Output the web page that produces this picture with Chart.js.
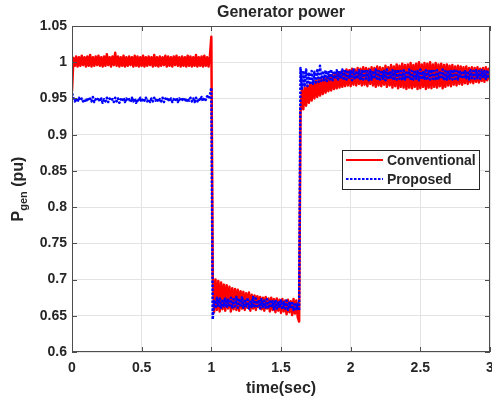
<!DOCTYPE html>
<html>
<head>
<meta charset="utf-8">
<script src="https://cdn.jsdelivr.net/npm/chart.js@4/dist/chart.umd.min.js"></script>
<style>
  html, body { margin: 0; padding: 0; background: #fff; }
</style>
</head>
<body>
<canvas id="power" width="492" height="403"></canvas>
<script>
// sampling step of the traces (sec)
const dt = 0.01;

const xTicks = [0, 0.5, 1, 1.5, 2, 2.5, 3];
const yTicks = [0.6, 0.65, 0.7, 0.75, 0.8, 0.85, 0.9, 0.95, 1, 1.05];

const seriesNames = ["Conventional", "Proposed"];

// generator power, conventional controller (pu), one value per dt
const conventional = [
    0.960, 1.006, 0.995, 1.008, 0.994, 1.007, 0.995, 1.009, 0.996, 1.007,
    0.994, 1.008, 0.995, 1.010, 0.994, 1.007, 0.995, 1.008, 0.996, 1.009,
    0.995, 1.007, 0.994, 1.008, 0.995, 1.011, 0.996, 1.007, 0.994, 1.008,
    0.996, 1.013, 0.995, 1.008, 0.994, 1.007, 0.995, 1.009, 0.994, 1.007,
    0.995, 1.008, 0.996, 1.007, 0.994, 1.009, 0.995, 1.008, 0.994, 1.007,
    0.995, 1.009, 0.994, 1.007, 0.995, 1.008, 0.996, 1.007, 0.994, 1.010,
    0.995, 1.007, 0.994, 1.008, 0.995, 1.007, 0.996, 1.009, 0.994, 1.008,
    0.995, 1.007, 0.994, 1.008, 0.996, 1.009, 0.995, 1.007, 0.994, 1.008,
    0.995, 1.007, 0.994, 1.009, 0.995, 1.008, 0.994, 1.007, 0.995, 1.010,
    0.994, 1.007, 0.995, 1.008, 0.994, 1.009, 0.995, 1.007, 0.994, 1.008,
    1.035,
    0.705, 0.655, 0.700, 0.658, 0.698, 0.656, 0.696, 0.659, 0.693,
    0.657, 0.692, 0.660, 0.690, 0.656, 0.688, 0.659, 0.687, 0.658, 0.686,
    0.657, 0.684, 0.660, 0.683, 0.658, 0.681, 0.661, 0.682, 0.657, 0.679,
    0.660, 0.678, 0.658, 0.677, 0.662, 0.676, 0.659, 0.675, 0.657, 0.676,
    0.660, 0.674, 0.656, 0.675, 0.658, 0.673, 0.655, 0.674, 0.657, 0.672,
    0.654, 0.673, 0.656, 0.671, 0.652, 0.672, 0.655, 0.670, 0.651, 0.673,
    0.653, 0.671, 0.648, 0.642,
    0.930, 0.962, 0.935, 0.965, 0.940, 0.968,
    0.944, 0.970, 0.947, 0.972, 0.950, 0.974, 0.952, 0.976, 0.954, 0.977,
    0.956, 0.979, 0.958, 0.980, 0.960, 0.982, 0.961, 0.983, 0.963, 0.984,
    0.964, 0.986, 0.965, 0.987, 0.966, 0.988, 0.967, 0.990, 0.968, 0.989,
    0.967, 0.991, 0.969, 0.990, 0.968, 0.992, 0.970, 0.991, 0.968, 0.993,
    0.969, 0.992, 0.967, 0.991, 0.970, 0.993, 0.968, 0.992, 0.966, 0.994,
    0.968, 0.993, 0.967, 0.992, 0.969, 0.995, 0.966, 0.993, 0.968, 0.996,
    0.965, 0.994, 0.967, 0.997, 0.964, 0.995, 0.966, 0.998, 0.965, 0.996,
    0.963, 0.997, 0.965, 0.999, 0.964, 0.996, 0.966, 0.998, 0.963, 1.000,
    0.964, 0.997, 0.966, 0.999, 0.963, 0.998, 0.965, 1.000, 0.964, 0.997,
    0.966, 0.999, 0.965, 0.997, 0.967, 0.998, 0.964, 0.996, 0.966, 0.997,
    0.968, 0.995, 0.967, 0.996, 0.969, 0.994, 0.968, 0.995, 0.970, 0.994,
    0.969, 0.993, 0.971, 0.994, 0.970, 0.992, 0.972, 0.993, 0.971, 0.992,
    0.973, 0.993, 0.972, 0.991, 0.974, 0.992, 0.973, 0.993, 0.975, 0.991, 0.976
];

// generator power, proposed controller (pu)
const proposed = [
    0.957, 0.951, 0.946, 0.950, 0.945, 0.951, 0.947, 0.950, 0.946, 0.949,
    0.945, 0.951, 0.947, 0.950, 0.946, 0.952, 0.945, 0.949, 0.947, 0.951,
    0.946, 0.950, 0.944, 0.949, 0.946, 0.951, 0.945, 0.950, 0.947, 0.949,
    0.945, 0.951, 0.946, 0.950, 0.944, 0.949, 0.946, 0.951, 0.945, 0.950,
    0.947, 0.949, 0.945, 0.951, 0.946, 0.950, 0.944, 0.949, 0.946, 0.951,
    0.945, 0.950, 0.947, 0.951, 0.946, 0.949, 0.945, 0.950, 0.946, 0.951,
    0.947, 0.950, 0.945, 0.949, 0.946, 0.951, 0.945, 0.950, 0.947, 0.951,
    0.946, 0.950, 0.945, 0.949, 0.946, 0.951, 0.945, 0.950, 0.947, 0.949,
    0.946, 0.951, 0.945, 0.950, 0.947, 0.951, 0.946, 0.950, 0.945, 0.951,
    0.946, 0.950, 0.947, 0.952, 0.946, 0.951, 0.948, 0.953, 0.950, 0.955,
    0.965,
    0.645, 0.672, 0.660, 0.675, 0.662, 0.674, 0.661, 0.673, 0.663,
    0.674, 0.661, 0.672, 0.662, 0.675, 0.660, 0.673, 0.663, 0.676, 0.661,
    0.674, 0.662, 0.677, 0.661, 0.673, 0.663, 0.675, 0.660, 0.672, 0.662,
    0.676, 0.661, 0.674, 0.663, 0.672, 0.660, 0.673, 0.662, 0.671, 0.661,
    0.673, 0.660, 0.672, 0.661, 0.670, 0.659, 0.672, 0.660, 0.670, 0.661,
    0.671, 0.659, 0.669, 0.660, 0.671, 0.658, 0.668, 0.660, 0.670, 0.658,
    0.668, 0.659, 0.667, 0.657,
    0.992, 0.962, 0.988, 0.966, 0.990, 0.967,
    0.986, 0.969, 0.988, 0.970, 0.987, 0.972, 0.989, 0.973, 0.995, 0.974,
    0.988, 0.975, 0.989, 0.974, 0.988, 0.976, 0.990, 0.975, 0.988, 0.977,
    0.989, 0.976, 0.988, 0.977, 0.990, 0.975, 0.988, 0.976, 0.989, 0.977,
    0.988, 0.975, 0.990, 0.976, 0.988, 0.977, 0.989, 0.975, 0.988, 0.976,
    0.990, 0.977, 0.988, 0.975, 0.989, 0.976, 0.988, 0.977, 0.990, 0.975,
    0.988, 0.976, 0.989, 0.977, 0.988, 0.975, 0.990, 0.976, 0.988, 0.977,
    0.989, 0.975, 0.988, 0.976, 0.990, 0.977, 0.988, 0.975, 0.989, 0.976,
    0.988, 0.977, 0.990, 0.975, 0.988, 0.976, 0.989, 0.977, 0.988, 0.975,
    0.990, 0.976, 0.988, 0.977, 0.989, 0.975, 0.988, 0.976, 0.990, 0.977,
    0.988, 0.975, 0.989, 0.976, 0.988, 0.977, 0.990, 0.975, 0.988, 0.976,
    0.989, 0.977, 0.988, 0.976, 0.990, 0.977, 0.988, 0.976, 0.989, 0.978,
    0.988, 0.977, 0.989, 0.978, 0.988, 0.976, 0.989, 0.978, 0.988, 0.977,
    0.989, 0.978, 0.988, 0.977, 0.989, 0.978, 0.988, 0.977, 0.989, 0.978, 0.987
];

const textColor = '#262626';
const fontFamily = '"Liberation Sans", Arial, Helvetica, sans-serif';

function toPoints(values) {
    return values.map((v, i) => ({ x: +(i * dt).toFixed(2), y: v }));
}

// matlab-like decorations: box, inward ticks, titles, legend
const decorations = {
    id: 'decorations',
    afterDatasetsDraw(chart) {
        const ctx = chart.ctx;
        const a = chart.chartArea;
        const xs = chart.scales.x, ys = chart.scales.y;
        ctx.save();
        ctx.strokeStyle = '#4d4d4d';
        ctx.lineWidth = 1;
        ctx.strokeRect(a.left + 0.5, a.top + 0.5, a.right - a.left - 1, a.bottom - a.top - 1);
        ctx.beginPath();
        xTicks.forEach(v => {
            const px = Math.round(xs.getPixelForValue(v)) + 0.5;
            ctx.moveTo(px, a.bottom); ctx.lineTo(px, a.bottom - 5);
            ctx.moveTo(px, a.top); ctx.lineTo(px, a.top + 5);
        });
        yTicks.forEach(v => {
            const py = Math.round(ys.getPixelForValue(v)) + 0.5;
            ctx.moveTo(a.left, py); ctx.lineTo(a.left + 5, py);
            ctx.moveTo(a.right, py); ctx.lineTo(a.right - 5, py);
        });
        ctx.stroke();
        ctx.restore();
    },
    afterDraw(chart) {
        const ctx = chart.ctx;
        const a = chart.chartArea;
        const cx = (a.left + a.right) / 2;
        ctx.save();
        ctx.fillStyle = textColor;
        ctx.textAlign = 'center';
        ctx.textBaseline = 'middle';

        ctx.font = 'bold 16px ' + fontFamily;
        ctx.fillText('Generator power', cx, 13);
        ctx.fillText('time(sec)', cx, 389);

        // y label with subscript
        ctx.translate(18, (a.top + a.bottom) / 2);
        ctx.rotate(-Math.PI / 2);
        ctx.textAlign = 'left';
        ctx.textBaseline = 'alphabetic';
        const big = 'bold 16px ' + fontFamily, small = 'bold 11px ' + fontFamily;
        ctx.font = big; const wP = ctx.measureText('P').width;
        ctx.font = small; const wSub = ctx.measureText('gen').width;
        ctx.font = big; const wRest = ctx.measureText(' (pu)').width;
        let x0 = -(wP + wSub + wRest) / 2;
        ctx.fillText('P', x0, 5);
        ctx.font = small; ctx.fillText('gen', x0 + wP, 9);
        ctx.font = big; ctx.fillText(' (pu)', x0 + wP + wSub, 5);
        ctx.restore();

        // legend
        ctx.save();
        const lx = 342, ly = 150, lw = 137, lh = 39;
        ctx.fillStyle = '#fff';
        ctx.fillRect(lx, ly, lw, lh);
        ctx.strokeStyle = '#262626';
        ctx.lineWidth = 1;
        ctx.strokeRect(lx + 0.5, ly + 0.5, lw, lh);
        chart.data.datasets.forEach((ds, i) => {
            const y = ly + 10 + i * 19;
            ctx.strokeStyle = ds.borderColor;
            ctx.lineWidth = 2;
            ctx.setLineDash(ds.borderDash || []);
            ctx.beginPath();
            ctx.moveTo(lx + 4, y); ctx.lineTo(lx + 41, y);
            ctx.stroke();
            ctx.setLineDash([]);
            ctx.fillStyle = textColor;
            ctx.font = 'bold 14px ' + fontFamily;
            ctx.textBaseline = 'middle';
            ctx.fillText(ds.label, lx + 45, y + 1);
        });
        ctx.restore();
    }
};

const tickFont = { family: fontFamily, size: 14, weight: 'bold' };

new Chart(document.getElementById('power'), {
    type: 'line',
    data: {
        datasets: [
            {
                label: seriesNames[0],
                data: toPoints(conventional),
                borderColor: '#ff0000',
                borderWidth: 2.5,
                borderJoinStyle: 'round',
                pointRadius: 0,
                tension: 0,
                order: 2,
            },
            {
                label: seriesNames[1],
                data: toPoints(proposed),
                borderColor: '#0000ff',
                borderWidth: 2.5,
                borderDash: [2.5, 1.5],
                borderJoinStyle: 'round',
                pointRadius: 0,
                tension: 0,
                order: 1,
            },
        ],
    },
    options: {
        responsive: false,
        animation: false,
        layout: { padding: { top: 26, right: 2, left: 0, bottom: 0 } },
        scales: {
            x: {
                type: 'linear',
                min: 0,
                max: 3,
                afterBuildTicks: s => { s.ticks = xTicks.map(v => ({ value: v })); },
                afterFit: s => { s.height = 51; s.paddingRight = 0; s.paddingLeft = 0; },
                ticks: {
                    callback: v => String(v),
                    font: tickFont,
                    color: textColor,
                    padding: 8,
                    maxRotation: 0,
                    autoSkip: false,
                },
                grid: { color: '#e3e3e3', drawTicks: false },
                border: { display: false },
            },
            y: {
                min: 0.6,
                max: 1.05,
                afterBuildTicks: s => { s.ticks = yTicks.map(v => ({ value: v })); },
                afterFit: s => { s.width = 72; s.paddingTop = 0; s.paddingBottom = 0; },
                ticks: {
                    callback: v => String(v),
                    font: tickFont,
                    color: textColor,
                    padding: 5,
                    autoSkip: false,
                },
                grid: { color: '#e3e3e3', drawTicks: false },
                border: { display: false },
            },
        },
        plugins: {
            legend: { display: false },
            tooltip: { enabled: false },
            title: { display: false },
        },
    },
    plugins: [decorations],
});
</script>
</body>
</html>
